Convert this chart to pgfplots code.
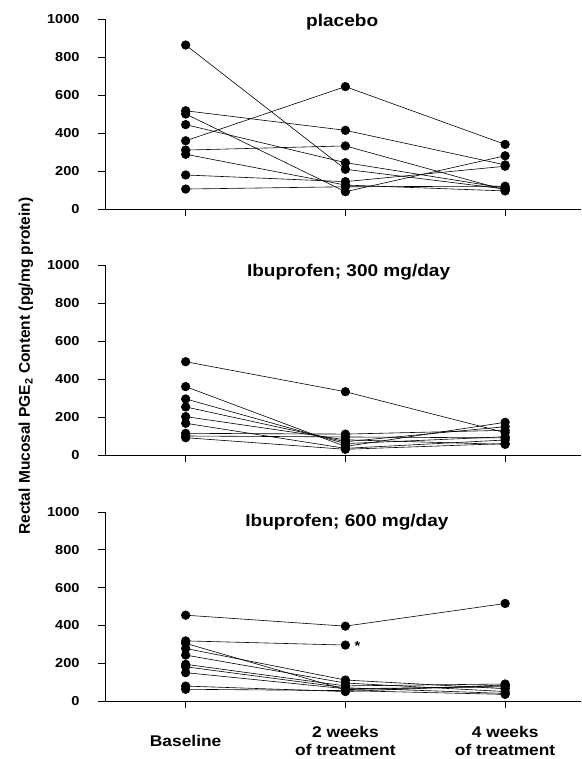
\documentclass[border=0pt]{standalone}
\usepackage{fontspec}
\setmainfont{Liberation Sans}[FakeStretch=1.12]
\newfontfamily\labfont{Liberation Sans}
\usepackage{pgfplots}
\pgfplotsset{compat=1.18}

\tikzset{ptitle/.style={font=\fontsize{17}{20}\selectfont\bfseries, anchor=base}}
\pgfplotsset{
  subj/.style={black, solid, line width=0.6pt, mark=*, mark size=4.3pt, mark options={solid, fill=black}},
  panel/.style={
    scale only axis, width=476pt, height=190pt,
    xmin=-0.505, xmax=2.475, ymin=0, ymax=1000,
    axis x line*=bottom, axis y line*=left,
    axis line style={line width=0.8pt},
    xtick={0,1,2}, ytick={0,200,...,1000},
    tick align=outside, major tick length=7pt,
    tick style={black, line width=0.8pt},
    scaled y ticks=false,
    /pgf/number format/1000 sep={},
    /pgf/number format/assume math mode=true,
    yticklabel style={font=\fontsize{13}{15}\selectfont\bfseries, xshift=-15pt},
    xticklabels={},
    clip=false,
  },
}

\begin{document}
\begin{tikzpicture}
\path[use as bounding box] (0,0) rectangle (581pt,759pt);

% placebo
\begin{axis}[panel, at={(105pt,550pt)}, anchor=south west]
  \addplot[subj] coordinates {(0,863) (1,209) (2,105)};
  \addplot[subj] coordinates {(0,517) (1,414) (2,232)};
  \addplot[subj] coordinates {(0,500) (1,91) (2,280)};
  \addplot[subj] coordinates {(0,444) (1,244) (2,110)};
  \addplot[subj] coordinates {(0,359) (1,644) (2,340)};
  \addplot[subj] coordinates {(0,310) (1,332) (2,100)};
  \addplot[subj] coordinates {(0,288) (1,126) (2,95)};
  \addplot[subj] coordinates {(0,179) (1,144) (2,225)};
  \addplot[subj] coordinates {(0,105) (1,117) (2,120)};
  \node[ptitle] at (axis cs:0.98,960) {placebo};
\end{axis}

% ibuprofen 300
\begin{axis}[panel, at={(105pt,304pt)}, anchor=south west,
  ylabel={\labfont\bfseries Rectal Mucosal PGE\textsubscript{2} Content (pg/mg protein)},
  every axis y label/.style={at={(axis description cs:-0.166,0.468)}, rotate=90, anchor=center,
    font=\fontsize{15.5}{18}\selectfont}]
  \addplot[subj] coordinates {(0,491) (1,333) (2,118)};
  \addplot[subj] coordinates {(0,360) (1,45) (2,172)};
  \addplot[subj] coordinates {(0,295) (1,60) (2,96)};
  \addplot[subj] coordinates {(0,253) (1,70) (2,149)};
  \addplot[subj] coordinates {(0,202) (1,80) (2,56)};
  \addplot[subj] coordinates {(0,167) (1,35) (2,79)};
  \addplot[subj] coordinates {(0,114) (1,110) (2,130)};
  \addplot[subj] coordinates {(0,100) (1,95) (2,90)};
  \addplot[subj] coordinates {(0,91) (1,30) (2,60)};
  \node[ptitle] at (axis cs:1.02,938) {Ibuprofen; 300 mg/day};
\end{axis}

% ibuprofen 600
\begin{axis}[panel, at={(105pt,58pt)}, anchor=south west, height=189pt,
  xticklabels={Baseline,{2 weeks\\of treatment},{4 weeks\\of treatment}},
  xticklabel style={font=\fontsize{15.5}{18}\selectfont\bfseries, align=center, anchor=center, yshift=-33pt}]
  \addplot[subj] coordinates {(0,454) (1,396) (2,516)};
  \addplot[subj] coordinates {(0,318) (1,296)};
  \addplot[subj] coordinates {(0,305) (1,60) (2,80)};
  \addplot[subj] coordinates {(0,278) (1,111) (2,65)};
  \addplot[subj] coordinates {(0,243) (1,95) (2,50)};
  \addplot[subj] coordinates {(0,194) (1,80) (2,90)};
  \addplot[subj] coordinates {(0,181) (1,70) (2,40)};
  \addplot[subj] coordinates {(0,150) (1,65) (2,75)};
  \addplot[subj] coordinates {(0,79) (1,50) (2,85)};
  \addplot[subj] coordinates {(0,62) (1,55) (2,35)};
  \node[ptitle] at (axis cs:1.01,925) {Ibuprofen; 600 mg/day};
  \node[font=\fontsize{13}{15}\selectfont\bfseries, anchor=base] at (axis cs:1.075,267) {*};
\end{axis}
\end{tikzpicture}
\end{document}
